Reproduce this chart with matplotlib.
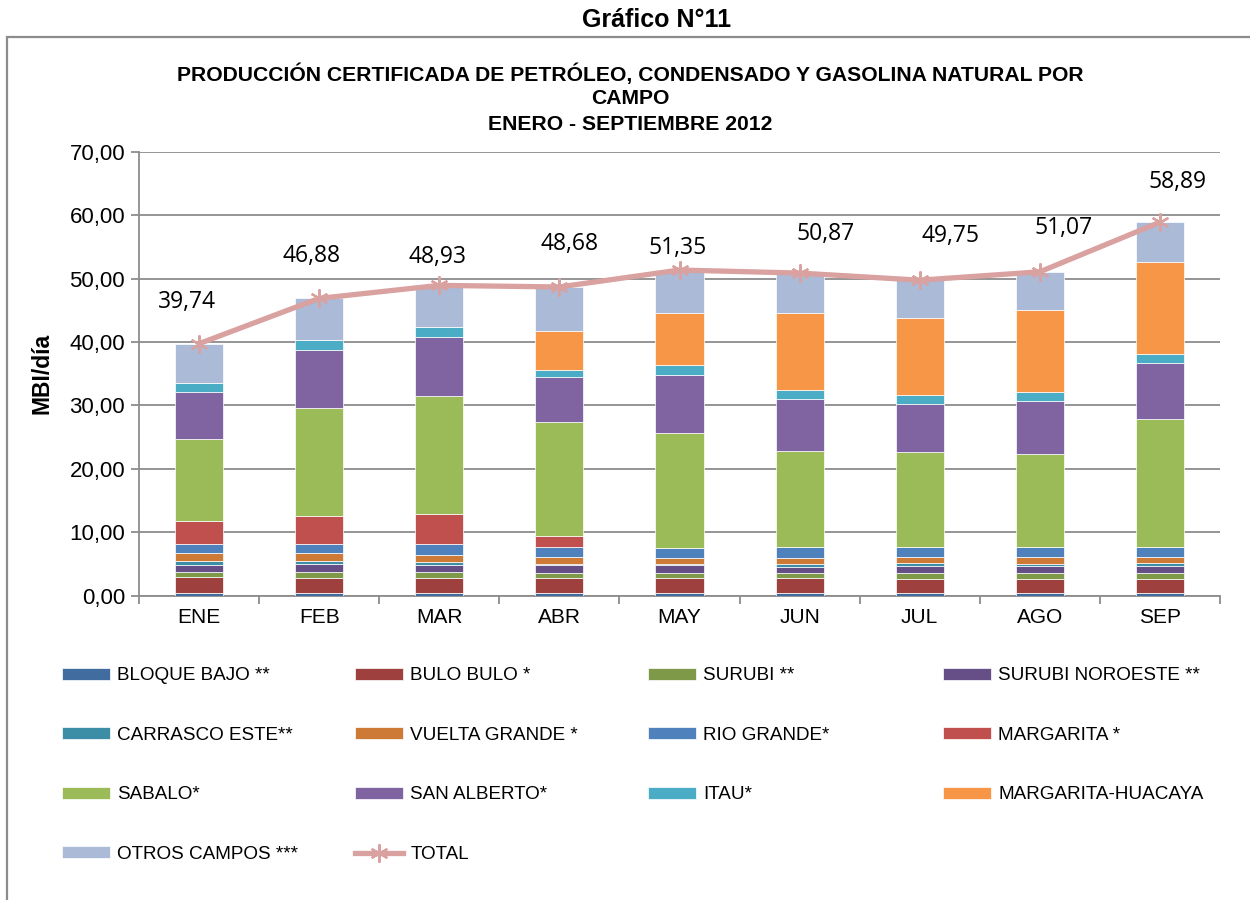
import matplotlib.pyplot as plt
import matplotlib.ticker as ticker
from matplotlib.patches import Rectangle
import numpy as np

meses = ["ENE", "FEB", "MAR", "ABR", "MAY", "JUN", "JUL", "AGO", "SEP"]

bloque_bajo      = [0.50, 0.50, 0.50, 0.50, 0.50, 0.50, 0.50, 0.50, 0.50]
bulo_bulo        = [2.39, 2.34, 2.34, 2.34, 2.23, 2.23, 2.18, 2.18, 2.18]
surubi           = [0.89, 0.94, 0.84, 0.79, 0.79, 0.79, 0.84, 0.84, 0.84]
surubi_noroeste  = [1.11, 1.26, 1.21, 1.15, 1.26, 1.05, 1.21, 1.21, 1.21]
carrasco_este    = [0.63, 0.48, 0.47, 0.21, 0.16, 0.42, 0.47, 0.31, 0.37]
vuelta_grande    = [1.15, 1.15, 1.05, 1.05, 0.95, 0.95, 0.95, 1.06, 1.00]
rio_grande       = [1.48, 1.48, 1.68, 1.63, 1.68, 1.73, 1.57, 1.57, 1.57]
margarita        = [3.67, 4.46, 4.78, 1.79, 0.00, 0.00, 0.00, 0.00, 0.00]
sabalo           = [12.83, 16.98, 18.56, 17.92, 18.08, 15.14, 14.89, 14.62, 20.19]
san_alberto      = [7.42, 9.19, 9.30, 7.15, 9.19, 8.15, 7.61, 8.40, 8.78]
itau             = [1.51, 1.58, 1.63, 1.10, 1.58, 1.52, 1.47, 1.47, 1.51]
margarita_huacaya = [0.00, 0.00, 0.00, 6.05, 8.15, 12.04, 12.09, 12.83, 14.41]
otros_campos     = [6.16, 6.52, 6.57, 7.00, 6.78, 6.35, 5.97, 6.08, 6.33]
total            = [39.74, 46.88, 48.93, 48.68, 51.35, 50.87, 49.75, 51.07, 58.89]

series = [
    ("BLOQUE BAJO **", bloque_bajo, "#416C9F"),
    ("BULO BULO *", bulo_bulo, "#9E413E"),
    ("SURUBI **", surubi, "#7E9A48"),
    ("SURUBI NOROESTE **", surubi_noroeste, "#654F86"),
    ("CARRASCO ESTE**", carrasco_este, "#3B8EA5"),
    ("VUELTA GRANDE *", vuelta_grande, "#CD7A37"),
    ("RIO GRANDE*", rio_grande, "#4F81BD"),
    ("MARGARITA *", margarita, "#C0504D"),
    ("SABALO*", sabalo, "#9BBB59"),
    ("SAN ALBERTO*", san_alberto, "#8064A2"),
    ("ITAU*", itau, "#4BACC6"),
    ("MARGARITA-HUACAYA", margarita_huacaya, "#F79646"),
    ("OTROS CAMPOS ***", otros_campos, "#AABAD7"),
]

plt.rcParams["font.family"] = ["Liberation Sans", "DejaVu Sans"]

fig = plt.figure(figsize=(12.5, 9), dpi=100)

# cadre gris autour du graphique
fig.patches.append(Rectangle((7 / 1250, -0.02), 1.1, 0.9589 + 0.02,
                             transform=fig.transFigure, fill=False,
                             edgecolor="#8C8C8C", linewidth=1.6))

fig.text(0.5256, 0.978, "Gráfico N°11", ha="center", va="center",
         fontsize=18, fontweight="bold")
fig.text(0.504, 0.9178,
         "PRODUCCIÓN CERTIFICADA DE PETRÓLEO, CONDENSADO Y GASOLINA NATURAL POR",
         ha="center", va="center", fontsize=15.2, fontweight="bold")
fig.text(0.504, 0.8911, "CAMPO", ha="center", va="center",
         fontsize=15.2, fontweight="bold")
fig.text(0.504, 0.8622, "ENERO - SEPTIEMBRE 2012", ha="center", va="center",
         fontsize=15.2, fontweight="bold")

ax = fig.add_axes([0.1112, 0.3381, 0.8648, 0.4933])
x = np.arange(len(meses))

bas = np.zeros(len(meses))
barres = []
for nom, vals, couleur in series:
    b = ax.bar(x, vals, 0.4, bottom=bas, color=couleur, label=nom,
               edgecolor="white", linewidth=0.5, zorder=3)
    barres.append(b)
    bas = bas + np.array(vals)

ligne, = ax.plot(x, total, color="#D9A19F", linewidth=3.8,
                 marker=(6, 2, 0), markersize=13, markeredgewidth=1.6,
                 markeredgecolor="#D9A19F", label="TOTAL", zorder=5)

# etiquettes de total (decalages en pixels, comme dans l'original)
dx_px = [-12, -8, -2, 10, -2, 26, 31, 24, 18]
dy_px = [42, 42, 28, 43, 22, 39, 44, 44, 40]
for i, v in enumerate(total):
    ax.annotate(f"{v:.2f}".replace(".", ","), (x[i], v),
                xytext=(dx_px[i] * 0.72, dy_px[i] * 0.72),
                textcoords="offset points", ha="center", va="center",
                fontsize=16.5, family=["Open Sans", "DejaVu Sans"], zorder=6)

ax.set_xlim(-0.5, len(meses) - 0.5)
ax.set_ylim(0, 70)
ax.yaxis.set_major_locator(ticker.MultipleLocator(10))
ax.yaxis.set_major_formatter(ticker.FuncFormatter(
    lambda v, _: f"{v:.2f}".replace(".", ",")))
ax.grid(axis="y", color="#8C8C8C", linewidth=1.3, zorder=0)
ax.set_axisbelow(True)

ax.set_xticks(x)
ax.set_xticklabels(meses)
ax.set_xticks(np.arange(-0.5, len(meses)), minor=True)
ax.tick_params(axis="x", which="major", length=0, labelsize=15, pad=9)
ax.tick_params(axis="x", which="minor", length=6, color="#8C8C8C", width=1.3)
ax.tick_params(axis="y", length=6, color="#8C8C8C", width=1.3,
               labelsize=16, pad=4)

for cote in ["top", "right"]:
    ax.spines[cote].set_visible(False)
for cote in ["left", "bottom"]:
    ax.spines[cote].set_color("#8C8C8C")
    ax.spines[cote].set_linewidth(1.3)

ax.set_ylabel("MBI/día", fontsize=16.5, fontweight="bold")
ax.yaxis.set_label_coords(-0.079, 0.5)

# legende : 4 colonnes, remplissage ligne par ligne
poignees = barres + [ligne]
noms = [s[0] for s in series] + ["TOTAL"]
x_col = [62 / 1250, 355 / 1250, 648 / 1250, 943 / 1250]
for c in range(4):
    idx = list(range(c, len(poignees), 4))
    fig.legend([poignees[i] for i in idx], [noms[i] for i in idx],
               loc="upper left", bbox_to_anchor=(x_col[c], 0.2585),
               frameon=False, fontsize=13.6, handlelength=2.55,
               handleheight=0.6, handletextpad=0.37, labelspacing=2.25,
               borderpad=0, borderaxespad=0)

plt.savefig("out.png", dpi=100)
plt.close()
